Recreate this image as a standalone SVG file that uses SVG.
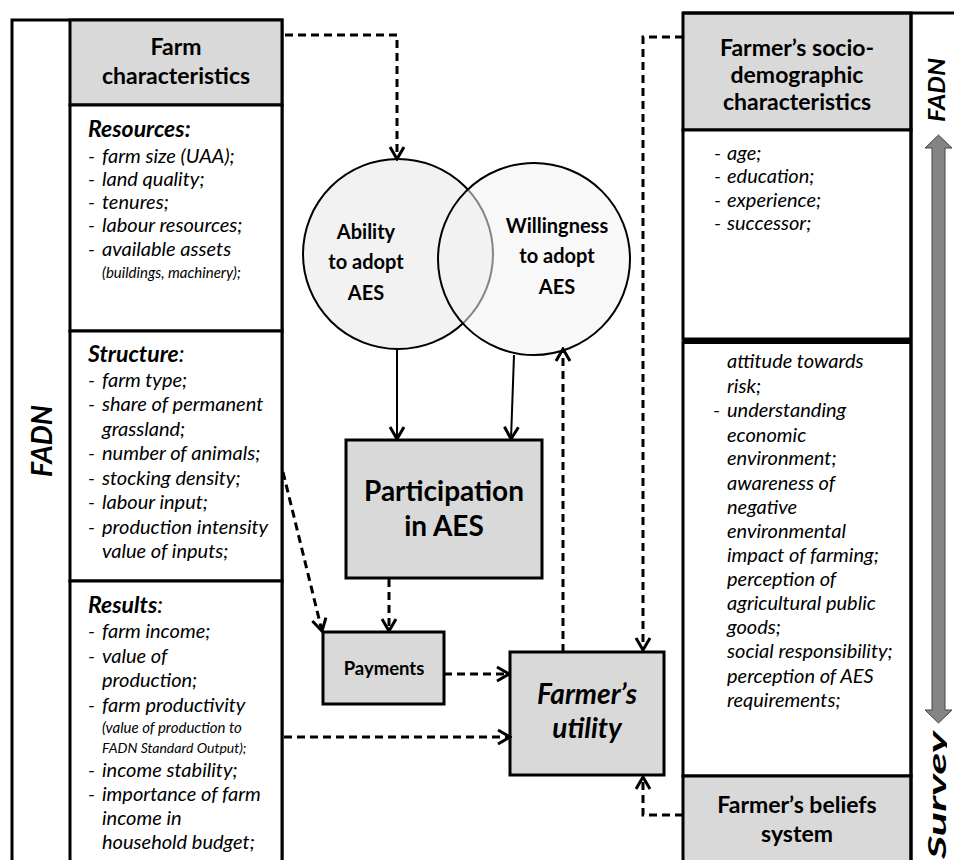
<svg xmlns="http://www.w3.org/2000/svg" width="954" height="860" viewBox="0 0 954 860">
<style>
text{font-family:Lato,"Open Sans","Liberation Sans",sans-serif;fill:#000}
.box{stroke:#000;stroke-width:3}
.gray{fill:#d9d9d9}
.white{fill:#fff}
.hd{font-weight:700;font-size:23px;text-anchor:middle}
.it{font-style:italic;font-size:20px}
.bi{font-style:italic;font-weight:700;font-size:23px}
.sm{font-style:italic;font-size:15px}
.dash{fill:none;stroke:#000;stroke-width:3;stroke-dasharray:8 5}
.solid{fill:none;stroke:#000;stroke-width:2}
.circ{stroke:#000;stroke-width:2;fill:#f2f2f2}
.ctx{font-weight:700;font-size:20px;text-anchor:middle}
</style>
<defs>
<marker id="ah" viewBox="-14 -10 16 20" refX="0" refY="0" markerWidth="16" markerHeight="20" markerUnits="userSpaceOnUse" orient="auto">
<path d="M-12,-7 L0,0 L-12,7" fill="none" stroke="#000" stroke-width="3"/>
</marker>
<clipPath id="clipR"><rect x="911" y="0" width="36" height="860"/></clipPath>
</defs>
<rect width="954" height="860" fill="#fff"/>

<g id="left-frame">
<rect class="box white" x="12" y="20" width="270" height="860"/>
<text transform="translate(52,441) rotate(-90)" font-weight="700" font-style="italic" font-size="28" text-anchor="middle" textLength="72" lengthAdjust="spacingAndGlyphs">FADN</text>
</g>

<g id="farm-characteristics">
<rect class="box gray" x="70" y="20" width="212" height="85"/>
<text class="hd" x="176" y="55">Farm</text>
<text class="hd" x="176" y="84">characteristics</text>
</g>

<g id="resources">
<rect class="box white" x="70" y="105" width="212" height="226"/>
<text class="bi" x="88" y="137">Resources:</text>
<g class="it">
<text x="88" y="163">-</text><text x="102" y="163">farm size (UAA);</text>
<text x="88" y="186">-</text><text x="102" y="186">land quality;</text>
<text x="88" y="209">-</text><text x="102" y="209">tenures;</text>
<text x="88" y="232">-</text><text x="102" y="232">labour resources;</text>
<text x="88" y="256">-</text><text x="102" y="256">available assets</text>
</g>
<text class="sm" x="102" y="278">(buildings, machinery);</text>
</g>

<g id="structure">
<rect class="box white" x="70" y="331" width="212" height="250"/>
<text class="bi" x="88" y="362">Structure<tspan font-weight="400">:</tspan></text>
<g class="it">
<text x="88" y="387">-</text><text x="102" y="387">farm type;</text>
<text x="88" y="411">-</text><text x="102" y="411">share of permanent</text>
<text x="102" y="436">grassland;</text>
<text x="88" y="460">-</text><text x="102" y="460">number of animals;</text>
<text x="88" y="485">-</text><text x="102" y="485">stocking density;</text>
<text x="88" y="509">-</text><text x="102" y="509">labour input;</text>
<text x="88" y="534">-</text><text x="102" y="534">production intensity</text>
<text x="102" y="558">value of inputs;</text>
</g>
</g>

<g id="results">
<rect class="box white" x="70" y="581" width="212" height="300"/>
<text class="bi" x="88" y="613">Results<tspan font-weight="400">:</tspan></text>
<g class="it">
<text x="88" y="638">-</text><text x="102" y="638">farm income;</text>
<text x="88" y="663">-</text><text x="102" y="663">value of</text>
<text x="102" y="687">production;</text>
<text x="88" y="712">-</text><text x="102" y="712">farm productivity</text>
<text x="88" y="777">-</text><text x="102" y="777">income stability;</text>
<text x="88" y="801">-</text><text x="102" y="801">importance of farm</text>
<text x="102" y="825">income in</text>
<text x="102" y="849">household budget;</text>
</g>
<text class="sm" x="102" y="733">(value of production to</text>
<text class="sm" x="102" y="753" style="font-size:14px">FADN Standard Output);</text>
</g>

<g id="ability">
<circle class="circ" cx="398" cy="254" r="95"/>
<text class="ctx" x="366" y="239">Ability</text>
<text class="ctx" x="366" y="269">to adopt</text>
<text class="ctx" x="366" y="300">AES</text>
</g>

<g id="willingness">
<circle class="circ" cx="534" cy="259" r="96" fill-opacity="0.55"/>
<text class="ctx" x="557" y="233">Willingness</text>
<text class="ctx" x="557" y="263">to adopt</text>
<text class="ctx" x="557" y="294">AES</text>
</g>

<g id="participation">
<rect class="box gray" x="346" y="440" width="196" height="138"/>
<text x="444" y="501" font-weight="700" font-size="28" text-anchor="middle">Participation</text>
<text x="444" y="536" font-weight="700" font-size="28" text-anchor="middle">in AES</text>
</g>

<g id="payments">
<rect class="box gray" x="323" y="632" width="121" height="72"/>
<text x="384" y="675" font-weight="700" font-size="18.5" text-anchor="middle">Payments</text>
</g>

<g id="utility">
<rect class="box gray" x="510" y="652" width="154" height="123"/>
<text x="587" y="704" font-weight="700" font-style="italic" font-size="28" text-anchor="middle">Farmer’s</text>
<text x="587" y="738" font-weight="700" font-style="italic" font-size="28" text-anchor="middle">utility</text>
</g>

<g id="socio-demographic">
<rect class="box gray" x="683" y="13" width="228" height="117"/>
<text class="hd" x="797" y="56">Farmer’s socio-</text>
<text class="hd" x="797" y="83">demographic</text>
<text class="hd" x="797" y="110">characteristics</text>
<rect class="box white" x="683" y="130" width="228" height="209"/>
<g class="it">
<text x="714" y="160">-</text><text x="727" y="160">age;</text>
<text x="714" y="183">-</text><text x="727" y="183">education;</text>
<text x="714" y="207">-</text><text x="727" y="207">experience;</text>
<text x="714" y="230">-</text><text x="727" y="230">successor;</text>
</g>
</g>

<g id="beliefs-items">
<rect class="box white" x="683" y="342" width="228" height="434"/>
<line x1="683" y1="341" x2="911" y2="341" stroke="#000" stroke-width="6"/>
<g class="it">
<text x="727" y="368">attitude towards</text>
<text x="727" y="393">risk;</text>
<text x="713" y="417">-</text><text x="727" y="417">understanding</text>
<text x="727" y="442">economic</text>
<text x="727" y="465">environment;</text>
<text x="727" y="490">awareness of</text>
<text x="727" y="514">negative</text>
<text x="727" y="538">environmental</text>
<text x="727" y="562">impact of farming;</text>
<text x="727" y="586">perception of</text>
<text x="727" y="610">agricultural public</text>
<text x="727" y="634">goods;</text>
<text x="727" y="658">social responsibility;</text>
<text x="727" y="683">perception of AES</text>
<text x="727" y="707">requirements;</text>
</g>
</g>

<g id="beliefs">
<rect class="box gray" x="683" y="776" width="228" height="100"/>
<text class="hd" x="797" y="813">Farmer’s beliefs</text>
<text class="hd" x="797" y="842">system</text>
</g>

<g id="right-frame">
<path d="M683,13 H960 M911,13 V870" fill="none" stroke="#000" stroke-width="3"/>
<polygon points="938.5,135 952,148 945,148 945,710 952,710 938.5,723 925,710 932,710 932,148 925,148" fill="#848484" stroke="#444" stroke-width="1"/>
<text transform="translate(945,90) rotate(-90)" font-weight="700" font-style="italic" font-size="22" text-anchor="middle" textLength="64" lengthAdjust="spacingAndGlyphs">FADN</text>
<g clip-path="url(#clipR)">
<text transform="translate(946,859) rotate(-90)" font-weight="700" font-style="italic" font-size="25" textLength="128" lengthAdjust="spacingAndGlyphs">Survey</text>
</g>
</g>

<g id="connectors">
<path class="dash" d="M285,35 H397 V159" marker-end="url(#ah)"/>
<path class="dash" d="M683,37 H643 V650" marker-end="url(#ah)"/>
<path class="dash" d="M683,815 H643 V777" marker-end="url(#ah)"/>
<path class="dash" d="M563,652 V349" marker-end="url(#ah)"/>
<path class="solid" d="M397,349 V439" marker-end="url(#ah)"/>
<path class="solid" d="M514,355 L511,439" marker-end="url(#ah)"/>
<path class="dash" d="M389,579 V631" marker-end="url(#ah)"/>
<path class="dash" d="M283,472 L322,631" marker-end="url(#ah)"/>
<path class="dash" d="M444,674 H509" marker-end="url(#ah)"/>
<path class="dash" d="M284,737 H510" marker-end="url(#ah)"/>
</g>
</svg>
